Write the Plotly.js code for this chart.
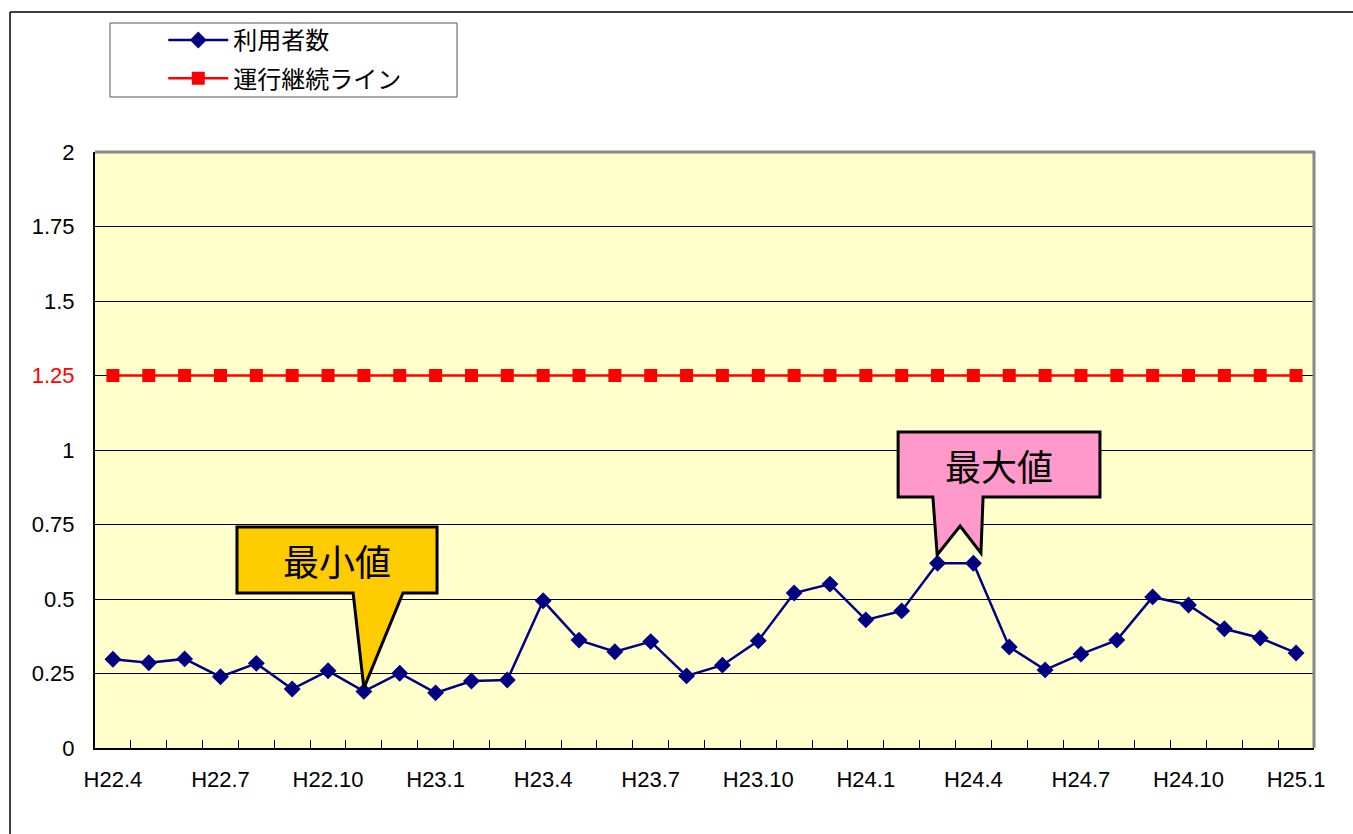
<!DOCTYPE html>
<html>
<head>
<meta charset="utf-8">
<script src="https://cdn.plot.ly/plotly-3.0.1.min.js"></script>
<style>html,body{margin:0;padding:0;background:#fff;}#chart{width:1353px;height:834px;}</style>
</head>
<body>
<div id="chart"></div>
<script>
// ---- data ----
const categories = [
  'H22.4','H22.5','H22.6','H22.7','H22.8','H22.9','H22.10','H22.11','H22.12',
  'H23.1','H23.2','H23.3','H23.4','H23.5','H23.6','H23.7','H23.8','H23.9','H23.10','H23.11','H23.12',
  'H24.1','H24.2','H24.3','H24.4','H24.5','H24.6','H24.7','H24.8','H24.9','H24.10','H24.11','H24.12',
  'H25.1'
];
const xTickLabels = ['H22.4','H22.7','H22.10','H23.1','H23.4','H23.7','H23.10','H24.1','H24.4','H24.7','H24.10','H25.1'];
const users = [
  0.298, 0.286, 0.299, 0.239, 0.284, 0.198, 0.259, 0.19, 0.251,
  0.185, 0.225, 0.228, 0.494, 0.362, 0.323, 0.357, 0.242, 0.278, 0.36, 0.52, 0.55,
  0.43, 0.46, 0.62, 0.62, 0.339, 0.262, 0.315, 0.362, 0.507, 0.48, 0.40, 0.369,
  0.319
];
const continuationLine = categories.map(() => 1.25);
const yTickVals = [0, 0.25, 0.5, 0.75, 1, 1.25, 1.5, 1.75, 2];
const yTickLabels = ['0', '0.25', '0.5', '0.75', '1', '1.25', '1.5', '1.75', '2'];
const seriesNames = ['利用者数', '運行継続ライン'];
const calloutMin = '最小値';
const calloutMax = '最大値';

const jp = '"Noto Sans CJK JP", sans-serif';
const num = '"Liberation Sans", Arial, sans-serif';

const traces = [
  {
    x: categories, y: users, name: seriesNames[0], type: 'scatter', mode: 'lines+markers',
    line: {color: '#000080', width: 2.5},
    marker: {symbol: 'diamond', size: 13, color: '#000080'},
    legendgroup: 'a'
  },
  {
    x: categories, y: continuationLine, name: seriesNames[1], type: 'scatter', mode: 'lines+markers',
    line: {color: '#FF0000', width: 2.5},
    marker: {symbol: 'square', size: 13, color: '#FF0000'},
    legendgroup: 'b'
  }
];

const yText = yTickLabels.map(t => t === '1.25' ? '<span style="color:#FF0000">' + t + '</span>' : t);

const layout = {
  width: 1353, height: 834,
  margin: {l: 95, r: 39, t: 152, b: 86},
  paper_bgcolor: '#FFFFFF',
  plot_bgcolor: '#FFFFCC',
  showlegend: true,
  legend: {
    x: 0.056, y: 1.225, xanchor: 'left', yanchor: 'top',
    font: {family: jp, size: 24, color: '#000'},
    bgcolor: 'rgba(0,0,0,0)', borderwidth: 0,
    traceorder: 'grouped', tracegroupgap: 4,
    itemwidth: 60
  },
  xaxis: {
    type: 'category', range: [-0.5, 33.5],
    tickmode: 'array', tickvals: categories,
    ticktext: categories.map(c => xTickLabels.includes(c) ? c : ''),
    tickangle: 0,
    tickson: 'boundaries', ticks: 'inside', ticklen: 8, tickwidth: 1, tickcolor: '#000',
    showline: true, linecolor: '#000', linewidth: 2,
    showgrid: false, zeroline: false,
    tickfont: {family: num, size: 22, color: '#000'},
    ticklabelstandoff: 11
  },
  yaxis: {
    range: [0, 2], tickmode: 'array', tickvals: yTickVals, ticktext: yText,
    ticks: 'inside', ticklen: 8, tickwidth: 1, tickcolor: '#000',
    showline: true, linecolor: '#000', linewidth: 2,
    showgrid: true, gridcolor: '#000', gridwidth: 1, zeroline: false,
    tickfont: {family: num, size: 22, color: '#000'},
    ticklabelstandoff: 14
  },
  shapes: [
    {type: 'line', xref: 'paper', yref: 'paper', x0: 0, x1: 1.001, y0: 1, y1: 1, line: {color: '#888888', width: 3}},
    {type: 'line', xref: 'paper', yref: 'paper', x0: 1, x1: 1, y0: 0, y1: 1, line: {color: '#888888', width: 3}},
    {type: 'line', xref: 'paper', yref: 'paper', x0: -0.0697, x1: 1.2, y0: 1.235, y1: 1.235, line: {color: '#000', width: 1.5}},
    {type: 'line', xref: 'paper', yref: 'paper', x0: -0.0697, x1: -0.0697, y0: 1.235, y1: -0.3, line: {color: '#000', width: 1.5}},
    {type: 'rect', xref: 'paper', yref: 'paper', x0: 0.0123, x1: 0.297, y0: 1.0923, y1: 1.2164, line: {color: '#555', width: 1}, fillcolor: 'rgba(0,0,0,0)'},
    {type: 'path', xref: 'x', yref: 'y',
     path: 'M 3.46,0.742 L 9.04,0.742 L 9.04,0.520 L 8.09,0.520 L 7,0.201 L 6.70,0.520 L 3.46,0.520 Z',
     fillcolor: '#FFCC00', line: {color: '#000', width: 3}},
    {type: 'path', xref: 'x', yref: 'y',
     path: 'M 21.90,1.060 L 27.53,1.060 L 27.53,0.842 L 24.27,0.842 L 24.21,0.654 L 23.63,0.745 L 22.99,0.648 L 22.87,0.842 L 21.90,0.842 Z',
     fillcolor: '#FF99CC', line: {color: '#000', width: 3}}
  ],
  annotations: [
    {xref: 'x', yref: 'y', x: 6.25, y: 0.631, text: calloutMin, showarrow: false,
     font: {family: jp, size: 36, color: '#000'}},
    {xref: 'x', yref: 'y', x: 24.72, y: 0.951, text: calloutMax, showarrow: false,
     font: {family: jp, size: 36, color: '#000'}}
  ]
};

Plotly.newPlot('chart', traces, layout, {displayModeBar: false, staticPlot: true});
</script>
</body>
</html>
